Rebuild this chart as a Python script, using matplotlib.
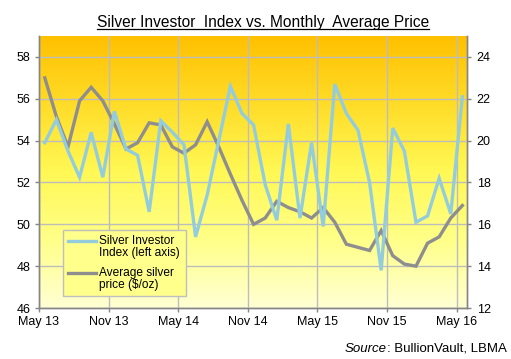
import numpy as np
import matplotlib
matplotlib.use('Agg')
import matplotlib.pyplot as plt
from matplotlib.colors import LinearSegmentedColormap
from matplotlib.legend_handler import HandlerLine2D
from matplotlib.lines import Line2D

plt.rcParams['font.family'] = ['Liberation Sans', 'DejaVu Sans']

# monthly points, May 2013 .. May 2016
tick_labels = ['May 13', 'Nov 13', 'May 14', 'Nov 14', 'May 15', 'Nov 15', 'May 16']

sii = [53.9, 55.0, 53.5, 52.25, 54.4, 52.25, 55.4, 53.6, 53.3, 50.6,
       54.95, 54.4, 53.8, 49.4, 51.4, 54.0, 56.6, 55.3, 54.75, 51.9,
       50.2, 54.8, 50.3, 53.9, 49.9, 56.7, 55.3, 54.5, 52.0, 47.8,
       54.6, 53.5, 50.1, 50.4, 52.2, 50.5, 56.1]

price = [23.0, 21.15, 19.7, 21.9, 22.55, 21.9, 20.8, 19.6, 19.9, 20.85,
         20.75, 19.7, 19.4, 19.8, 20.9, 19.7, 18.4, 17.15, 16.0, 16.3,
         17.1, 16.8, 16.6, 16.3, 16.8, 16.1, 15.05, 14.9, 14.75, 15.7,
         14.5, 14.1, 14.0, 15.1, 15.4, 16.3, 16.9]

months = np.arange(len(sii)) + 0.5   # mid-month


class UpLine(HandlerLine2D):
    # put the legend line next to the first text row
    def create_artists(self, legend, orig_handle, xdescent, ydescent,
                       width, height, fontsize, trans):
        arts = super().create_artists(legend, orig_handle, xdescent, ydescent,
                                      width, height, fontsize, trans)
        for a in arts:
            a.set_ydata(np.asarray(a.get_ydata()) + 0.5 * fontsize)
        return arts


fig = plt.figure(figsize=(5.11, 3.59), dpi=100)
ax2 = fig.add_axes([0.0763, 0.142, 0.8376, 0.7577])   # right axis, background
ax = ax2.twinx()                                      # left axis on top
ax.yaxis.tick_left()
ax.yaxis.set_label_position('left')
ax2.yaxis.tick_right()
ax.set_zorder(ax2.get_zorder() + 1)
ax.patch.set_visible(False)

# gradient background
cmap = LinearSegmentedColormap.from_list(
    'bg', ['#FFFFD4', '#FFFF88', '#FFF855', '#FFDC28', '#FFC000'])
grad = np.linspace(0, 1, 256).reshape(-1, 1)
ax2.imshow(grad, cmap=cmap, aspect='auto', origin='lower',
           extent=[0, 36.9, 12, 25], zorder=0)

ax2.plot(months, price, color='#8E8E8E', lw=2.4, zorder=3,
         solid_joinstyle='miter')
ax.plot(months, sii, color='#93CDDD', lw=2.4, zorder=3,
        solid_joinstyle='miter')

ax2.set_xlim(0, 36.9)
ax2.set_ylim(12, 25)
ax.set_ylim(46, 59)
ax2.set_yticks(np.arange(12, 25, 2))
ax.set_yticks(np.arange(46, 59, 2))
ax2.set_xticks(np.arange(0, 37, 6))
ax2.set_xticklabels(tick_labels)

ax2.grid(True, color='#BDBDBD', lw=1.0)
ax2.set_axisbelow(False)
for g in ax2.get_xgridlines() + ax2.get_ygridlines():
    g.set_zorder(1)

for a in (ax, ax2):
    for s in a.spines.values():
        s.set_color('#868686')
        s.set_linewidth(1.0)
    a.spines['top'].set_visible(False)
    a.tick_params(colors='#868686', labelcolor='black', labelsize=9,
                  length=3, width=1.0, direction='out')
ax.tick_params(axis='y', pad=3)
ax2.tick_params(axis='y', pad=4)
ax2.tick_params(axis='x', pad=3)

h1 = Line2D([], [], color='#93CDDD', lw=2.4)
h2 = Line2D([], [], color='#8E8E8E', lw=2.4)
leg = ax.legend([h1, h2],
                ['Silver Investor\nIndex (left axis)', 'Average silver\nprice ($/oz)'],
                loc='lower left', bbox_to_anchor=(0.056, 0.044),
                borderaxespad=0, fontsize=8.6, frameon=True, fancybox=False,
                framealpha=1, facecolor='#FFFF8C', edgecolor='#BFBFBF',
                handlelength=2.3, handletextpad=0.3, borderpad=0.45,
                labelspacing=0.7,
                handler_map={Line2D: UpLine()})
leg.get_frame().set_linewidth(1.0)
for t in leg.get_texts():
    t.set_linespacing(0.95)

title = fig.text(0.514, 0.925,
                 'Silver Investor  Index vs. Monthly  Average Price',
                 ha='center', va='baseline', fontsize=11.2)
src = fig.text(0.991, 0.02, ': BullionVault, LBMA', ha='right', va='baseline',
               fontsize=9.5)

fig.canvas.draw()
r = fig.canvas.get_renderer()
W, H = fig.bbox.width, fig.bbox.height

# underline for the title
bb = title.get_window_extent(r)
fig.add_artist(Line2D([bb.x0 / W, bb.x1 / W], [0.918, 0.918],
                      transform=fig.transFigure, color='black', lw=0.9))

# italic "Source" in front of the rest
sb = src.get_window_extent(r)
fig.text(sb.x0 / W, 0.02, 'Source', ha='right', va='baseline',
         fontsize=9.5, style='italic')

fig.savefig('out.png', dpi=100)
